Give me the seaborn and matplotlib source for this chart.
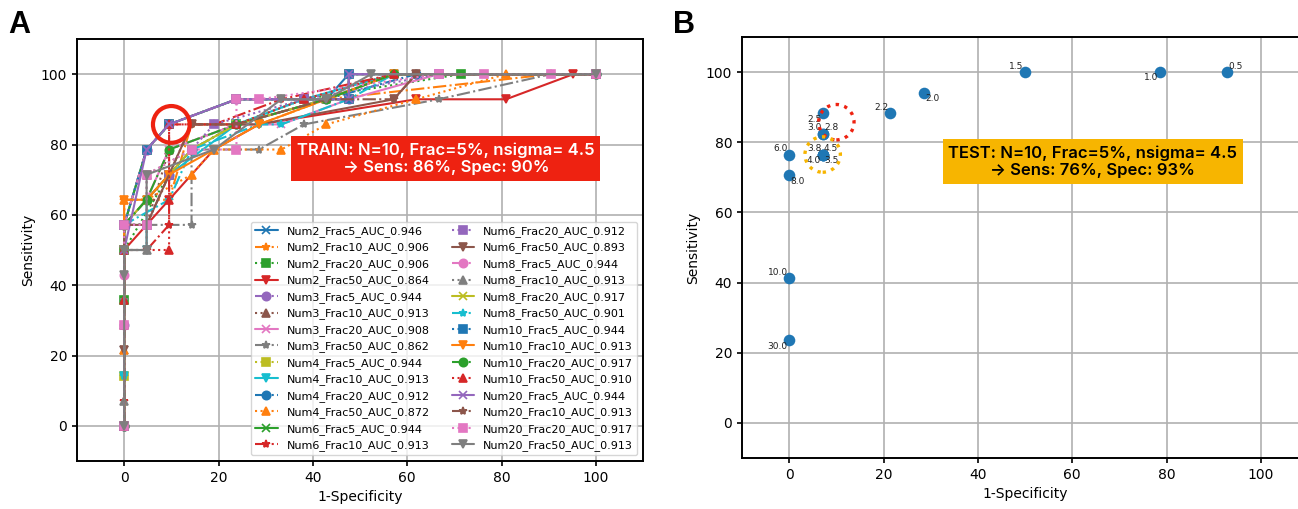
import matplotlib
matplotlib.use('Agg')
import matplotlib.pyplot as plt
import seaborn as sns

sns.set_style("ticks")
plt.rcParams['font.family'] = ['DejaVu Sans']
plt.rcParams['axes.linewidth'] = 1.4
plt.rcParams['axes.edgecolor'] = 'black'
plt.rcParams['text.color'] = 'black'
plt.rcParams['axes.labelcolor'] = 'black'
plt.rcParams['xtick.color'] = 'black'
plt.rcParams['ytick.color'] = 'black'
plt.rcParams['xtick.major.width'] = 1.2
plt.rcParams['ytick.major.width'] = 1.2
plt.rcParams['xtick.labelsize'] = 10
plt.rcParams['ytick.labelsize'] = 10

# -------------------------------------------------------
# Panel A data: train ROC curves (14 positives, 21 negatives)
# points are (false-positive count, true-positive count)
# -------------------------------------------------------
N_POS = 14
N_NEG = 21

CURVE_NAMES = [
    "Num2_Frac5_AUC_0.946", "Num2_Frac10_AUC_0.906", "Num2_Frac20_AUC_0.906", "Num2_Frac50_AUC_0.864",
    "Num3_Frac5_AUC_0.944", "Num3_Frac10_AUC_0.913", "Num3_Frac20_AUC_0.908", "Num3_Frac50_AUC_0.862",
    "Num4_Frac5_AUC_0.944", "Num4_Frac10_AUC_0.913", "Num4_Frac20_AUC_0.912", "Num4_Frac50_AUC_0.872",
    "Num6_Frac5_AUC_0.944", "Num6_Frac10_AUC_0.913", "Num6_Frac20_AUC_0.912", "Num6_Frac50_AUC_0.893",
    "Num8_Frac5_AUC_0.944", "Num8_Frac10_AUC_0.913", "Num8_Frac20_AUC_0.917", "Num8_Frac50_AUC_0.901",
    "Num10_Frac5_AUC_0.944", "Num10_Frac10_AUC_0.913", "Num10_Frac20_AUC_0.917", "Num10_Frac50_AUC_0.910",
    "Num20_Frac5_AUC_0.944", "Num20_Frac10_AUC_0.913", "Num20_Frac20_AUC_0.917", "Num20_Frac50_AUC_0.913",
]

ROC_FP = [
    [0, 0, 0, 1, 2, 5, 9, 10, 21],
    [0, 0, 0, 2, 3, 6, 9, 19, 21],
    [0, 0, 0, 2, 3, 5, 8, 15, 21],
    [0, 0, 2, 4, 6, 13, 17, 20, 21],
    [0, 0, 0, 1, 2, 5, 10, 10, 21],
    [0, 0, 0, 1, 2, 5, 9, 12, 21],
    [0, 0, 1, 2, 5, 7, 10, 14, 21],
    [0, 0, 0, 2, 3, 3, 6, 8, 14, 19, 21],
    [0, 0, 0, 1, 2, 5, 10, 10, 21],
    [0, 0, 0, 1, 1, 2, 5, 8, 12, 21],
    [0, 0, 2, 3, 5, 9, 13, 21],
    [0, 0, 0, 1, 3, 4, 7, 9, 13, 17, 21],
    [0, 0, 1, 2, 5, 10, 10, 21],
    [0, 0, 0, 1, 2, 2, 4, 7, 12, 21],
    [0, 0, 1, 2, 4, 8, 14, 21],
    [0, 0, 0, 1, 3, 6, 12, 13, 21],
    [0, 0, 0, 1, 2, 5, 10, 10, 21],
    [0, 0, 0, 1, 1, 3, 5, 9, 12, 21],
    [0, 0, 1, 3, 5, 9, 12, 21],
    [0, 0, 0, 2, 3, 6, 7, 10, 12, 21],
    [0, 0, 1, 2, 5, 10, 10, 21],
    [0, 0, 0, 1, 2, 4, 6, 9, 12, 21],
    [0, 0, 1, 2, 5, 9, 12, 21],
    [0, 0, 0, 2, 2, 2, 5, 8, 12, 21],
    [0, 0, 1, 2, 5, 10, 10, 21],
    [0, 0, 1, 3, 5, 9, 12, 13, 21],
    [0, 0, 0, 1, 1, 3, 5, 5, 6, 14, 16, 19, 21],
    [0, 0, 0, 1, 1, 4, 7, 9, 11, 21],
]

ROC_TP = [
    [0, 3, 8, 11, 12, 13, 13, 14, 14],
    [0, 2, 9, 9, 12, 12, 13, 14, 14],
    [0, 5, 7, 10, 11, 12, 13, 14, 14],
    [0, 7, 9, 11, 12, 13, 13, 14, 14],
    [0, 4, 8, 11, 12, 13, 13, 14, 14],
    [0, 4, 8, 8, 11, 12, 13, 14, 14],
    [0, 8, 9, 11, 12, 12, 13, 14, 14],
    [0, 5, 8, 8, 8, 11, 11, 12, 13, 14, 14],
    [0, 2, 8, 11, 12, 13, 13, 14, 14],
    [0, 2, 7, 7, 9, 10, 12, 13, 14, 14],
    [0, 8, 10, 11, 12, 13, 14, 14],
    [0, 3, 9, 9, 10, 11, 11, 12, 13, 14, 14],
    [0, 8, 11, 12, 13, 13, 14, 14],
    [0, 1, 7, 7, 8, 12, 12, 13, 14, 14],
    [0, 8, 8, 10, 12, 13, 14, 14],
    [0, 3, 8, 8, 12, 12, 13, 14, 14],
    [0, 6, 8, 11, 12, 13, 13, 14, 14],
    [0, 1, 7, 7, 10, 11, 12, 13, 14, 14],
    [0, 8, 9, 11, 12, 13, 14, 14],
    [0, 2, 8, 9, 11, 12, 12, 13, 14, 14],
    [0, 8, 11, 12, 13, 13, 14, 14],
    [0, 7, 9, 9, 10, 11, 12, 13, 14, 14],
    [0, 8, 9, 11, 12, 13, 14, 14],
    [0, 5, 7, 7, 9, 12, 12, 13, 14, 14],
    [0, 7, 11, 12, 13, 13, 14, 14],
    [0, 8, 8, 12, 12, 13, 13, 14, 14],
    [0, 4, 8, 8, 10, 11, 11, 13, 13, 14, 14, 14, 14],
    [0, 6, 7, 7, 10, 11, 13, 13, 14, 14],
]

# chosen train operating point (N=10, Frac=5%, nsigma=4.5)
TRAIN_SEL = (100 - 90, 12 / N_POS * 100)

# -------------------------------------------------------
# Panel B data: test operating points per nsigma
# -------------------------------------------------------
TEST_NSIGMA = [0.5, 1.0, 1.5, 2.0, 2.2, 2.5, 2.8, 3.0, 3.5, 3.8, 4.0, 4.5, 6.0, 8.0, 10.0, 30.0]
TEST_FPR = [92.9, 78.6, 50.0, 28.6, 21.4, 7.1, 7.1, 7.1, 7.1, 7.1, 7.1, 7.1, 0.0, 0.0, 0.0, 0.0]
TEST_TPR = [100.0, 100.0, 100.0, 94.1, 88.2, 88.2, 82.4, 82.4, 76.5, 76.5, 76.5, 76.5, 76.5, 70.6, 41.2, 23.5]
LABEL_POS = ['ur', 'll', 'ul', 'lr', 'ul', 'll', 'ur', 'ul', 'lr', 'ul', 'll', 'ur', 'ul', 'lr', 'ul', 'll']
TEST_SEL = (7.1, 76.5)

COLORS = sns.color_palette("tab10")
MARKERS = ['x', '*', 's', 'v', 'o', '^']
LINESTYLES = ['-', '-.', ':']

RED = '#EE2211'
GOLD = '#F7B500'

fig = plt.figure(figsize=(12.98, 5.09), dpi=100)
axA = fig.add_axes([77 / 1298, 48 / 509, 566 / 1298, 422 / 509])
axB = fig.add_axes([742 / 1298, 51 / 509, 566 / 1298, 421 / 509])

# -------------------------------------------------------
# Panel A
# -------------------------------------------------------
for i, name in enumerate(CURVE_NAMES):
    fpr = [v / N_NEG * 100 for v in ROC_FP[i]]
    tpr = [v / N_POS * 100 for v in ROC_TP[i]]
    c = COLORS[i % 10]
    sns.lineplot(x=fpr, y=tpr, ax=axA, sort=False, estimator=None,
                 color=c, marker=MARKERS[i % 6], linestyle=LINESTYLES[i % 3],
                 markeredgecolor=c, markeredgewidth=1.2, markersize=6,
                 linewidth=1.5, label=name)

axA.scatter([TRAIN_SEL[0]], [TRAIN_SEL[1]], s=700, facecolors='none',
            edgecolors=RED, linewidths=3, zorder=5)
axA.text(68.2, 76.0, "TRAIN: N=10, Frac=5%, nsigma= 4.5\n\u2192 Sens: 86%, Spec: 90%",
         ha='center', va='center', color='white', fontsize=12, fontweight='semibold',
         family=['Inter', 'DejaVu Sans'], linespacing=1.2,
         bbox=dict(boxstyle='square,pad=0.35', facecolor=RED, edgecolor='none'), zorder=6)

axA.legend(loc='lower right', ncol=2, fontsize=8)
axA.set_xlim(-10, 110)
axA.set_ylim(-10, 110)
axA.set_xticks([0, 20, 40, 60, 80, 100])
axA.set_yticks([0, 20, 40, 60, 80, 100])
axA.grid(True, color='#b0b0b0', linewidth=1.2)
axA.set_axisbelow(True)
axA.set_xlabel('1-Specificity', fontsize=10)
axA.set_ylabel('Sensitivity', fontsize=10)

# -------------------------------------------------------
# Panel B
# -------------------------------------------------------
sns.scatterplot(x=TEST_FPR, y=TEST_TPR, ax=axB, s=70, color='#1f77b4', linewidth=0, zorder=3)

offsets = {
    'ur': ((1, 1), 'left', 'bottom'),
    'ul': ((-1, 1), 'right', 'bottom'),
    'll': ((-1, -1), 'right', 'top'),
    'lr': ((1, -1), 'left', 'top'),
}
for ns, x, y, pos in zip(TEST_NSIGMA, TEST_FPR, TEST_TPR, LABEL_POS):
    off, ha, va = offsets[pos]
    axB.annotate(f'{ns:.1f}', (x, y), xytext=off, textcoords='offset points',
                 ha=ha, va=va, fontsize=6.5, color='#222222', zorder=4)

axB.scatter([TRAIN_SEL[0]], [TRAIN_SEL[1]], s=650, facecolors='none',
            edgecolors=RED, linewidths=2.4, linestyles=':', zorder=5)
axB.scatter([TEST_SEL[0]], [TEST_SEL[1]], s=650, facecolors='none',
            edgecolors=GOLD, linewidths=2.4, linestyles=':', zorder=5)
axB.text(64.4, 74.5, "TEST: N=10, Frac=5%, nsigma= 4.5\n\u2192 Sens: 76%, Spec: 93%",
         ha='center', va='center', color='black', fontsize=12, fontweight='semibold',
         family=['Inter', 'DejaVu Sans'], linespacing=1.2,
         bbox=dict(boxstyle='square,pad=0.35', facecolor=GOLD, edgecolor='none'), zorder=6)

axB.set_xlim(-10, 110)
axB.set_ylim(-10, 110)
axB.set_xticks([0, 20, 40, 60, 80, 100])
axB.set_yticks([0, 20, 40, 60, 80, 100])
axB.grid(True, color='#b0b0b0', linewidth=1.2)
axB.set_axisbelow(True)
axB.set_xlabel('1-Specificity', fontsize=10)
axB.set_ylabel('Sensitivity', fontsize=10)

# panel letters
fig.text(8 / 1298, 1 - 33 / 509, 'A', fontsize=22, fontweight='bold',
         family=['Liberation Sans', 'DejaVu Sans'], ha='left', va='baseline')
fig.text(673 / 1298, 1 - 33 / 509, 'B', fontsize=22, fontweight='bold',
         family=['Liberation Sans', 'DejaVu Sans'], ha='left', va='baseline')

fig.savefig('out.png', dpi=100)
plt.close(fig)
